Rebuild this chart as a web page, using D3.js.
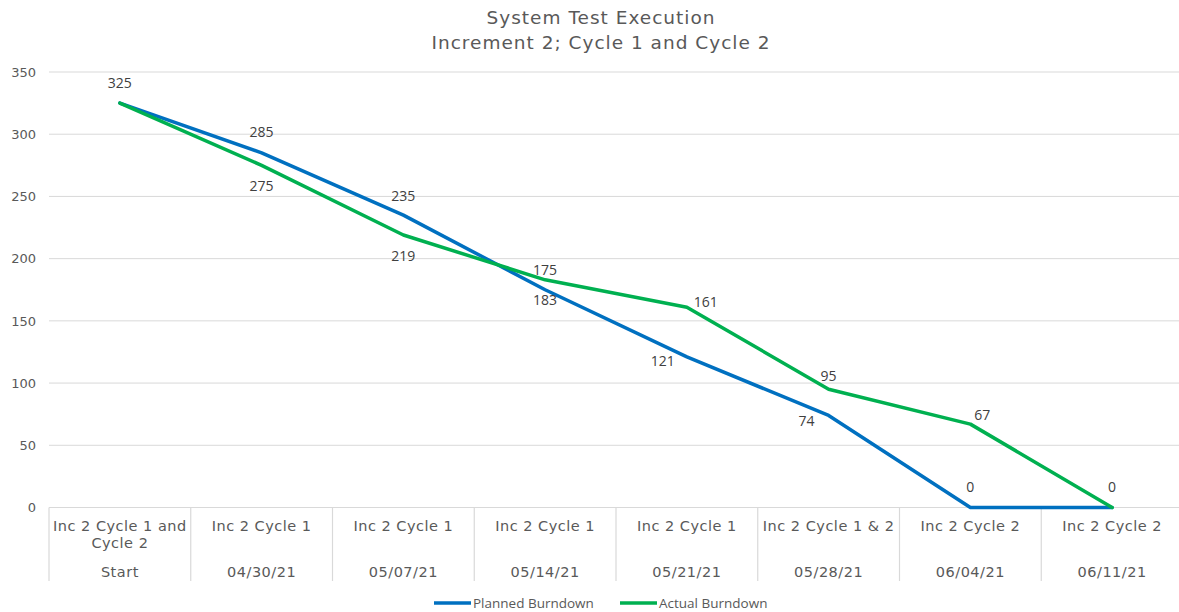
<!DOCTYPE html>
<html><head><meta charset="utf-8">
<script src="https://cdn.jsdelivr.net/npm/d3@7"></script>
<style>
body{margin:0;background:#fff;}
svg{display:block;font-family:"DejaVu Sans",sans-serif;}
</style></head>
<body><svg id="c" width="1179" height="612"></svg>
<script>
const titleLines = ["System Test Execution", "Increment 2; Cycle 1 and Cycle 2"];
const categoryTop = [["Inc 2 Cycle 1 and", "Cycle 2"], ["Inc 2 Cycle 1"], ["Inc 2 Cycle 1"], ["Inc 2 Cycle 1"], ["Inc 2 Cycle 1"], ["Inc 2 Cycle 1 & 2"], ["Inc 2 Cycle 2"], ["Inc 2 Cycle 2"]];
const categoryBottom = ["Start", "04/30/21", "05/07/21", "05/14/21", "05/21/21", "05/28/21", "06/04/21", "06/11/21"];
const planned = [325, 285, 235, 175, 121, 74, 0, 0];
const actual = [325, 275, 219, 183, 161, 95, 67, 0];
const yTicks = [0, 50, 100, 150, 200, 250, 300, 350];
const seriesNames = ["Planned Burndown", "Actual Burndown"];
// label offsets (dx, dy) relative to each point
const plannedLabelOffsets = [[0,-20],[0,-21],[0,-19],[0,-20],[-24,4],[-22,6],[0,-20],[null,null]];
const actualLabelOffsets = [[null,null],[0,21],[0,21],[0,20],[19,-5],[0,-13],[12,-9],[0,-20]];

const svg = d3.select("#c");
const idx = d3.range(categoryBottom.length);
const x = d3.scaleBand().domain(idx).range([49, 1183]).padding(0);
const y = d3.scaleLinear().domain([0, 350]).range([507.5, 72]);
const cx = i => x(i) + x.bandwidth() / 2;

// title
svg.append("g").selectAll("text").data(titleLines).join("text")
  .attr("x", 601).attr("y", (d, i) => 24 + i * 25)
  .attr("text-anchor", "middle").attr("font-size", 18.5).attr("letter-spacing", 1)
  .attr("fill", "#595959")
  .text(d => d);

// gridlines
svg.append("g").selectAll("line").data(yTicks.filter(t => t > 0)).join("line")
  .attr("x1", 49).attr("x2", 1183).attr("y1", d => y(d)).attr("y2", d => y(d))
  .attr("stroke", "#d9d9d9").attr("stroke-width", 1);

// y axis labels
const yAxis = d3.axisLeft(y).tickValues(yTicks).tickSize(0).tickPadding(0);
const yg = svg.append("g").attr("transform", "translate(36,0)").call(yAxis);
yg.select(".domain").remove();
yg.selectAll("text").attr("font-size", 13).attr("fill", "#595959").attr("font-family", "'DejaVu Sans', sans-serif");

// x axis line and separators
svg.append("line").attr("x1", 49).attr("x2", 1183).attr("y1", y(0)).attr("y2", y(0))
  .attr("stroke", "#d9d9d9").attr("stroke-width", 1.2);
svg.append("g").selectAll("line").data(d3.range(categoryBottom.length + 1)).join("line")
  .attr("x1", d => 49 + d * x.bandwidth()).attr("x2", d => 49 + d * x.bandwidth())
  .attr("y1", y(0)).attr("y2", 581)
  .attr("stroke", "#d9d9d9").attr("stroke-width", 1.2);

// category labels
const catG = svg.append("g").attr("font-size", 14.5).attr("letter-spacing", 0.5).attr("fill", "#595959").attr("text-anchor", "middle");
categoryTop.forEach((lines, i) => {
  lines.forEach((l, j) => {
    catG.append("text").attr("x", cx(i)).attr("y", 531 + j * 17).text(l);
  });
});
catG.selectAll(".b").data(categoryBottom).join("text").attr("class", "b")
  .attr("x", (d, i) => cx(i)).attr("y", 577).text(d => d);

// lines
const line = d3.line().x((d, i) => cx(i)).y(d => y(d));
svg.append("path").datum(planned).attr("d", line).attr("fill", "none")
  .attr("stroke", "#0070C0").attr("stroke-width", 3.5).attr("stroke-linejoin", "round").attr("stroke-linecap", "round");
svg.append("path").datum(actual).attr("d", line).attr("fill", "none")
  .attr("stroke", "#00B050").attr("stroke-width", 3.5).attr("stroke-linejoin", "round").attr("stroke-linecap", "round");

// data labels
function labels(data, offs) {
  svg.append("g").selectAll("text").data(data.map((v, i) => ({v, i, o: offs[i]})).filter(d => d.o[0] !== null)).join("text")
    .attr("x", d => cx(d.i) + d.o[0]).attr("y", d => y(d.v) + d.o[1])
    .attr("dy", "0.35em").attr("text-anchor", "middle")
    .attr("font-size", 14).attr("fill", "#404040").attr("font-family", "'Open Sans', Arial, sans-serif")
    .text(d => d.v);
}
labels(planned, plannedLabelOffsets);
labels(actual, actualLabelOffsets);

// legend
const lg = svg.append("g").attr("font-family", "'Open Sans', Arial, sans-serif").attr("font-size", 13.5).attr("fill", "#595959");
const legendItems = [{name: seriesNames[0], color: "#0070C0", x: 434}, {name: seriesNames[1], color: "#00B050", x: 620}];
legendItems.forEach(it => {
  lg.append("line").attr("x1", it.x).attr("x2", it.x + 37).attr("y1", 603).attr("y2", 603)
    .attr("stroke", it.color).attr("stroke-width", 3.5);
  lg.append("text").attr("x", it.x + 39).attr("y", 608).text(it.name);
});
</script></body></html>
